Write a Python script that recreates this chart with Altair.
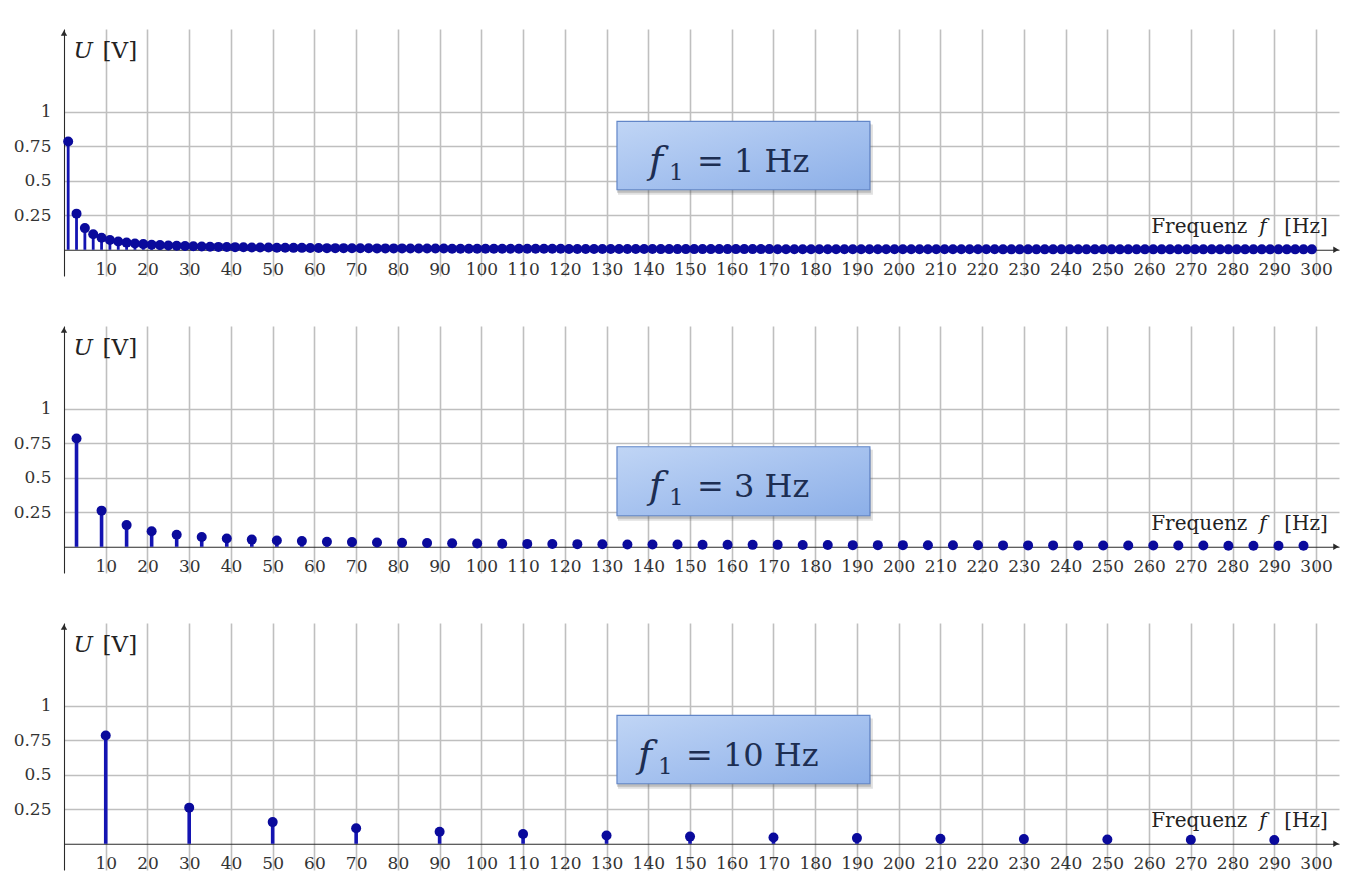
import altair as alt
import pandas as pd

# ---------------- data ----------------
# odd harmonic numbers n (1, 3, 5, ... 299)
harmonics = list(range(1, 300, 2))
# amplitude U [V] of each odd harmonic (same sequence in all panels)
amplitudes = [
    0.785, 0.262, 0.157, 0.112, 0.087, 0.071, 0.060, 0.052, 0.046, 0.041,
    0.037, 0.034, 0.031, 0.029, 0.027, 0.025, 0.024, 0.022, 0.021, 0.020,
    0.019, 0.018, 0.017, 0.017, 0.016, 0.015, 0.015, 0.014, 0.014, 0.013,
    0.013, 0.012, 0.012, 0.012, 0.011, 0.011, 0.011, 0.010, 0.010, 0.010,
    0.010, 0.009, 0.009, 0.009, 0.009, 0.009, 0.008, 0.008, 0.008, 0.008,
    0.008, 0.008, 0.007, 0.007, 0.007, 0.007, 0.007, 0.007, 0.007, 0.007,
    0.006, 0.006, 0.006, 0.006, 0.006, 0.006, 0.006, 0.006, 0.006, 0.006,
    0.006, 0.005, 0.005, 0.005, 0.005, 0.005, 0.005, 0.005, 0.005, 0.005,
    0.005, 0.005, 0.005, 0.005, 0.005, 0.004, 0.004, 0.004, 0.004, 0.004,
    0.004, 0.004, 0.004, 0.004, 0.004, 0.004, 0.004, 0.004, 0.004, 0.004,
    0.004, 0.004, 0.004, 0.004, 0.004, 0.004, 0.004, 0.004, 0.004, 0.004,
    0.004, 0.004, 0.003, 0.003, 0.003, 0.003, 0.003, 0.003, 0.003, 0.003,
    0.003, 0.003, 0.003, 0.003, 0.003, 0.003, 0.003, 0.003, 0.003, 0.003,
    0.003, 0.003, 0.003, 0.003, 0.003, 0.003, 0.003, 0.003, 0.003, 0.003,
    0.003, 0.003, 0.003, 0.003, 0.003, 0.003, 0.003, 0.003, 0.003, 0.003,
]
fundamentals = [1, 3, 10]           # f1 [Hz] of each panel
box_values = ["1 Hz", "3 Hz", "10 Hz"]
x_ticks = list(range(10, 301, 10))
y_ticks = [0.25, 0.5, 0.75, 1]
F_MAX = 300

# ---------------- layout / style ----------------
X_MAX = 305.5
Y_MIN, Y_MAX = -0.19, 1.6
W, H = 1275, 247
AXIS_OFFSET = -(0 - Y_MIN) * H / (Y_MAX - Y_MIN)

FONT = "DejaVu Serif"
GRID = "#bfbfbf"
AXC = "#2a2a2a"
LBL = "#333333"
DOT = "#0a0a9c"
STEM = "#1414b2"
TXT = "#1d2e52"

BOX_X = (132.5, 193.1)
BOX_Y = [(0.435, 0.93), (0.225, 0.725), (0.435, 0.93)]
EQ_DX = [84, 84, 73]


def xenc(field):
    return alt.X(
        f"{field}:Q",
        scale=alt.Scale(domain=[0, X_MAX], nice=False, zero=False),
        axis=alt.Axis(
            values=x_ticks, title=None, grid=True, gridColor=GRID, gridWidth=1.6,
            domain=True, domainColor=AXC, domainWidth=1.1, ticks=False,
            labelPadding=12, labelFont=FONT, labelFontSize=17, labelColor=LBL,
            labelFlush=False, labelOverlap=False, offset=AXIS_OFFSET, format="d",
        ),
    )


def yenc(field):
    return alt.Y(
        f"{field}:Q",
        scale=alt.Scale(domain=[Y_MIN, Y_MAX], nice=False, zero=False),
        axis=alt.Axis(
            values=y_ticks, title=None, grid=True, gridColor=GRID, gridWidth=1.6,
            domain=True, domainColor=AXC, domainWidth=1.1, ticks=False,
            labelPadding=13, labelFont=FONT, labelFontSize=17, labelColor=LBL,
            format="~g",
        ),
    )


def panel(i):
    f1 = fundamentals[i]
    freqs, amps = [], []
    for n, a in zip(harmonics, amplitudes):
        if f1 * n <= F_MAX:
            freqs.append(f1 * n)
            amps.append(a)
    df = pd.DataFrame({"f": freqs, "a": amps, "base": [0] * len(freqs)})

    stem_w = 2.8 if i == 0 else 3.6
    stems = alt.Chart(df).mark_rule(color=STEM, strokeWidth=stem_w).encode(
        x=xenc("f"), y=yenc("a"), y2="base:Q"
    )
    dots = alt.Chart(df).mark_point(
        filled=True, shape="circle", size=100, opacity=1, color=DOT
    ).encode(x=xenc("f"), y=yenc("a"))

    arr_x = alt.Chart(pd.DataFrame({"x": [X_MAX], "y": [0]})).mark_point(
        shape="triangle-right", filled=True, size=40, opacity=1, color=AXC, xOffset=-3
    ).encode(x=xenc("x"), y=yenc("y"))
    arr_y = alt.Chart(pd.DataFrame({"x": [0], "y": [Y_MAX]})).mark_point(
        shape="triangle-up", filled=True, size=40, opacity=1, color=AXC, yOffset=4
    ).encode(x=xenc("x"), y=yenc("y"))

    # axis titles
    ulab = pd.DataFrame({"x": [2.3], "y": [1.39]})
    u_it = alt.Chart(ulab).mark_text(
        text="U", font=FONT, fontStyle="italic", fontSize=23, align="left",
        baseline="alphabetic", color="#222"
    ).encode(x=xenc("x"), y=yenc("y"))
    u_un = alt.Chart(ulab).mark_text(
        text="[V]", font=FONT, fontSize=23, align="left", baseline="alphabetic",
        color="#222", dx=29
    ).encode(x=xenc("x"), y=yenc("y"))

    flab = pd.DataFrame({"x": [260.5], "y": [0.123]})
    f_a = alt.Chart(flab).mark_text(
        text="Frequenz", font=FONT, fontSize=20, align="left", baseline="alphabetic",
        color="#222"
    ).encode(x=xenc("x"), y=yenc("y"))
    f_b = alt.Chart(flab).mark_text(
        text="f", font=FONT, fontStyle="italic", fontSize=20, align="left",
        baseline="alphabetic", color="#222", dx=108
    ).encode(x=xenc("x"), y=yenc("y"))
    f_c = alt.Chart(flab).mark_text(
        text="[Hz]", font=FONT, fontSize=20, align="left", baseline="alphabetic",
        color="#222", dx=133
    ).encode(x=xenc("x"), y=yenc("y"))

    # info box
    y0, y1 = BOX_Y[i]
    bdf = pd.DataFrame({"x": [BOX_X[0]], "x2": [BOX_X[1]], "y": [y0], "y2": [y1],
                        "yc": [(y0 + y1) / 2]})
    shadow1 = alt.Chart(bdf).mark_rect(
        color="#555555", opacity=0.18, xOffset=1, x2Offset=3, yOffset=5, y2Offset=3
    ).encode(x=xenc("x"), x2="x2:Q", y=yenc("y"), y2="y2:Q")
    shadow2 = alt.Chart(bdf).mark_rect(
        color="#555555", opacity=0.25, xOffset=0, x2Offset=1, yOffset=3, y2Offset=2
    ).encode(x=xenc("x"), x2="x2:Q", y=yenc("y"), y2="y2:Q")
    grad = alt.Gradient(
        gradient="linear",
        stops=[alt.GradientStop(color="#c0d5f5", offset=0),
               alt.GradientStop(color="#a6c2ef", offset=0.5),
               alt.GradientStop(color="#8cafe8", offset=1)],
        x1=0, x2=1, y1=0, y2=1,
    )
    box = alt.Chart(bdf).mark_rect(
        fill=grad, stroke="#6286c8", strokeWidth=1.2, opacity=1
    ).encode(x=xenc("x"), x2="x2:Q", y=yenc("y"), y2="y2:Q")

    eq = EQ_DX[i]
    t_f = alt.Chart(bdf).mark_text(
        text="f", font=FONT, fontStyle="italic", fontSize=38, align="left",
        baseline="alphabetic", color=TXT, dx=eq - 52, dy=17
    ).encode(x=xenc("x"), y=yenc("yc"))
    t_1 = alt.Chart(bdf).mark_text(
        text="1", font=FONT, fontSize=23, align="left",
        baseline="alphabetic", color=TXT, dx=eq - 32, dy=24
    ).encode(x=xenc("x"), y=yenc("yc"))
    t_eq = alt.Chart(bdf).mark_text(
        text="= " + box_values[i], font=FONT, fontSize=32, align="left",
        baseline="alphabetic", color=TXT, dx=eq - 4, dy=16
    ).encode(x=xenc("x"), y=yenc("yc"))

    return alt.layer(
        stems, dots, arr_x, arr_y, u_it, u_un, f_a, f_b, f_c,
        shadow1, shadow2, box, t_f, t_1, t_eq
    ).properties(width=W, height=H)


chart = alt.vconcat(panel(0), panel(1), panel(2), spacing=48).properties(
    padding={"left": 5, "top": 21, "right": 5, "bottom": 0},
    background="white",
).configure_view(stroke=None)

chart.save("out.html", embed_options={"renderer": "svg", "actions": False})
